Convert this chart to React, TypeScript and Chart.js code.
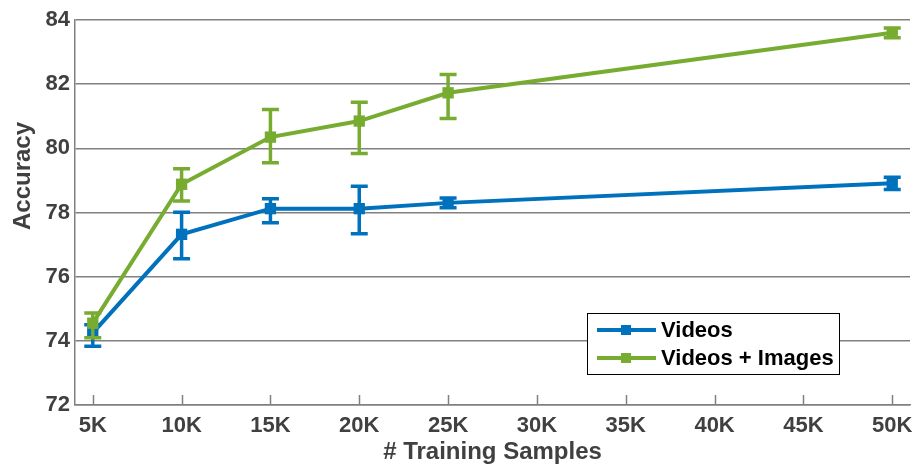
import React, { useEffect, useRef } from "react";
import { Chart, registerables } from "chart.js";

Chart.register(...registerables);

// ---- data ----
const samplesK = [5, 10, 15, 20, 25, 50];
const xTickValues = [5, 10, 15, 20, 25, 30, 35, 40, 45, 50];
const yTickMin = 72;
const yTickMax = 84;
const yTickStep = 2;

const seriesNames = ["Videos", "Videos + Images"];

const videosMean = [74.25, 77.32, 78.12, 78.12, 78.3, 78.91];
const videosLow = [73.83, 76.56, 77.68, 77.34, 78.15, 78.72];
const videosHigh = [74.5, 78.01, 78.43, 78.82, 78.45, 79.1];

const mixedMean = [74.55, 78.88, 80.35, 80.85, 81.73, 83.6];
const mixedLow = [74.1, 78.36, 79.55, 79.84, 80.93, 83.45];
const mixedHigh = [74.87, 79.36, 81.21, 81.44, 82.3, 83.75];

const BLUE = "#0072BD";
const GREEN = "#77AC30";
const FONT = "'Liberation Sans', Arial, Helvetica, sans-serif";
const AXIS_GRAY = "#808080";
const TEXT_GRAY = "#404040";

const errorBarPlugin = {
  id: "errorBars",
  afterDatasetDraw(chart: any, args: any) {
    const ds: any = chart.data.datasets[args.index];
    if (!ds.errLow) return;
    const xs = chart.scales.x;
    const ys = chart.scales.y;
    const ctx = chart.ctx;
    ctx.save();
    ctx.strokeStyle = ds.borderColor;
    ctx.lineWidth = 3.5;
    ctx.lineCap = "butt";
    ds.data.forEach((pt: any, i: number) => {
      const px = xs.getPixelForValue(pt.x);
      const pl = ys.getPixelForValue(ds.errLow[i]);
      const ph = ys.getPixelForValue(ds.errHigh[i]);
      const cap = 8.5;
      ctx.beginPath();
      ctx.moveTo(px, pl);
      ctx.lineTo(px, ph);
      ctx.moveTo(px - cap, pl);
      ctx.lineTo(px + cap, pl);
      ctx.moveTo(px - cap, ph);
      ctx.lineTo(px + cap, ph);
      ctx.stroke();
    });
    ctx.restore();
  },
};

const decorPlugin = {
  id: "decor",
  afterDraw(chart: any) {
    const ctx = chart.ctx;
    const xs = chart.scales.x;
    const area = chart.chartArea;
    ctx.save();
    // inward x ticks
    ctx.strokeStyle = AXIS_GRAY;
    ctx.lineWidth = 1.5;
    xs.ticks.forEach((t: any) => {
      const px = Math.round(xs.getPixelForValue(t.value)) + 0.5;
      ctx.beginPath();
      ctx.moveTo(px, area.bottom);
      ctx.lineTo(px, area.bottom - 10);
      ctx.stroke();
    });
    // y title
    ctx.fillStyle = TEXT_GRAY;
    ctx.font = `bold 24px ${FONT}`;
    ctx.textAlign = "center";
    ctx.textBaseline = "middle";
    ctx.translate(23, 176);
    ctx.rotate(-Math.PI / 2);
    ctx.fillText("Accuracy", 0, 0);
    ctx.restore();

    // legend
    ctx.save();
    const bx = 587, by = 313, bw = 252, bh = 61;
    ctx.fillStyle = "#ffffff";
    ctx.fillRect(bx, by, bw, bh);
    ctx.strokeStyle = "#000000";
    ctx.lineWidth = 1;
    ctx.strokeRect(bx + 0.5, by + 0.5, bw, bh);
    const rows = [330, 358];
    chart.data.datasets.forEach((ds: any, i: number) => {
      const y = rows[i];
      ctx.strokeStyle = ds.borderColor;
      ctx.lineWidth = 4;
      ctx.beginPath();
      ctx.moveTo(597, y);
      ctx.lineTo(656, y);
      ctx.stroke();
      ctx.fillStyle = ds.borderColor;
      ctx.fillRect(626 - 5, y - 5, 10, 10);
      ctx.fillStyle = "#000000";
      ctx.font = `bold 22px ${FONT}`;
      ctx.textAlign = "left";
      ctx.textBaseline = "middle";
      ctx.fillText(ds.label, 661, y + 1);
    });
    ctx.restore();
  },
};

export default function App() {
  const ref = useRef<HTMLCanvasElement | null>(null);

  useEffect(() => {
    if (!ref.current) return;
    const mk = (mean: number[]) => mean.map((v, i) => ({ x: samplesK[i], y: v }));
    const chart = new Chart(ref.current, {
      type: "line",
      data: {
        datasets: [
          {
            label: seriesNames[0],
            data: mk(videosMean),
            borderColor: BLUE,
            backgroundColor: BLUE,
            borderWidth: 4,
            pointStyle: "rect",
            pointRadius: 8,
            pointBorderWidth: 0,
            order: 1,
            clip: false,
            errLow: videosLow,
            errHigh: videosHigh,
          } as any,
          {
            label: seriesNames[1],
            data: mk(mixedMean),
            borderColor: GREEN,
            backgroundColor: GREEN,
            borderWidth: 4,
            pointStyle: "rect",
            pointRadius: 8,
            pointBorderWidth: 0,
            order: 0,
            clip: false,
            errLow: mixedLow,
            errHigh: mixedHigh,
          } as any,
        ],
      },
      options: {
        animation: false,
        responsive: false,
        maintainAspectRatio: false,
        devicePixelRatio: 1,
        layout: { autoPadding: false, padding: { top: 20, right: 2, left: 0, bottom: 0 } },
        plugins: {
          legend: { display: false },
          tooltip: { enabled: false },
        },
        scales: {
          x: {
            type: "linear",
            min: 4,
            max: 51,
            afterBuildTicks: (scale: any) => {
              scale.ticks = xTickValues.map((v) => ({ value: v }));
            },
            afterFit: (scale: any) => {
              scale.height = 59;
              scale.paddingLeft = 0;
              scale.paddingRight = 0;
            },
            grid: { display: false },
            border: { display: true, color: AXIS_GRAY, width: 1.5 },
            ticks: {
              color: TEXT_GRAY,
              font: { family: FONT, size: 22, weight: "bold" },
              padding: 0,
              maxRotation: 0,
              autoSkip: false,
              callback: (v: any) => `${v}K`,
            },
            title: {
              display: true,
              text: "# Training Samples",
              color: TEXT_GRAY,
              font: { family: FONT, size: 24, weight: "bold", lineHeight: 1 },
              padding: { top: 0, bottom: 0 },
            },
          },
          y: {
            type: "linear",
            min: yTickMin,
            max: yTickMax,
            afterFit: (scale: any) => {
              scale.width = 75;
              scale.paddingTop = 0;
              scale.paddingBottom = 0;
            },
            grid: {
              color: AXIS_GRAY,
              lineWidth: 1.5,
              drawTicks: false,
            },
            border: { display: true, color: AXIS_GRAY, width: 1.5 },
            ticks: {
              stepSize: yTickStep,
              color: TEXT_GRAY,
              font: { family: FONT, size: 22, weight: "bold" },
              padding: 5,
            },
          },
        },
      },
      plugins: [errorBarPlugin, decorPlugin],
    });
    return () => chart.destroy();
  }, []);

  return (
    <div style={{ position: "absolute", left: 0, top: 0, width: 912, height: 464, background: "#fff" }}>
      <canvas ref={ref} width={912} height={464} style={{ display: "block", width: 912, height: 464 }} />
    </div>
  );
}
